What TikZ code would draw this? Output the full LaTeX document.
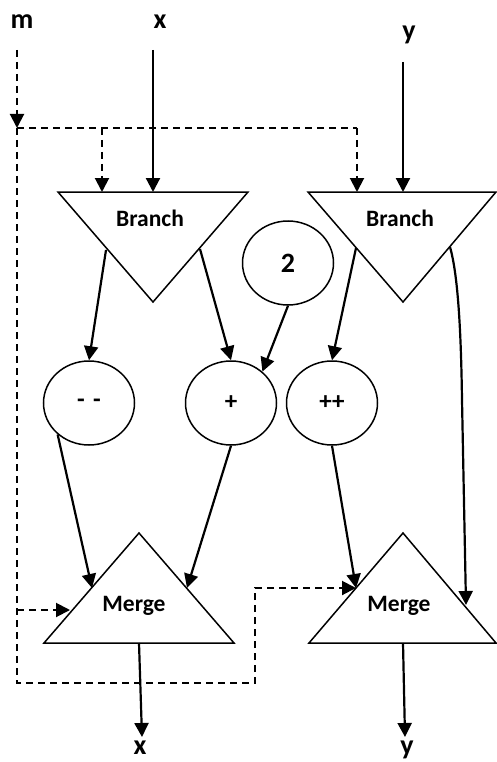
\documentclass[tikz,border=0pt]{standalone}
\usepackage{fontspec}
\setmainfont{Carlito}
\usetikzlibrary{arrows.meta,shapes.geometric}
\begin{document}
\begin{tikzpicture}[x=1pt,y=-1pt,
  conn/.style={line width=2.2pt,-{Triangle[length=14pt,width=14pt]}},
  ctrl/.style={line width=2pt,dash pattern=on 7pt off 5pt},
  ctrlarrow/.style={ctrl,-{Triangle[length=14pt,width=14pt]}},
  shapeline/.style={line width=1.5pt,line join=miter},
  op/.style={ellipse,draw,line width=1.5pt,minimum width=91pt,minimum height=84pt,inner sep=0pt,
    font=\bfseries\fontsize{25}{29}\selectfont},
  blabel/.style={font=\bfseries\fontsize{23.5}{27}\selectfont,anchor=base},
  iolabel/.style={font=\bfseries\fontsize{28}{32}\selectfont,anchor=base}]
\useasboundingbox (0,0) rectangle (497,762);

% input labels
\node[iolabel] (m) at (22,29) {m};
\node[iolabel] (xin) at (160,29) {x};
\node[iolabel] (yin) at (409,40) {y};
\coordinate (mtop) at (17,50);
\coordinate (xtop) at (153,50);
\coordinate (ytop) at (403,62);

% Branch triangles
\coordinate (BL1) at (58,192); \coordinate (BL2) at (248,192); \coordinate (BL3) at (153,302);
\coordinate (BR1) at (308,192); \coordinate (BR2) at (496,192); \coordinate (BR3) at (403,302);
\draw[shapeline] (BL1) -- (BL2) -- (BL3) -- cycle;
\draw[shapeline] (BR1) -- (BR2) -- (BR3) -- cycle;
\node[blabel] (branchL) at (150,226) {Branch};
\node[blabel] (branchR) at (400,226) {Branch};

% Merge triangles
\coordinate (ML1) at (44,643); \coordinate (ML2) at (234,643); \coordinate (ML3) at (139,533);
\coordinate (MR1) at (309,643); \coordinate (MR2) at (496,643); \coordinate (MR3) at (403,533);
\draw[shapeline] (ML1) -- (ML2) -- (ML3) -- cycle;
\draw[shapeline] (MR1) -- (MR2) -- (MR3) -- cycle;
\node[blabel] (mergeL) at (134,611) {Merge};
\node[blabel] (mergeR) at (399,611) {Merge};

% operator circles
\node[op,font=\bfseries\fontsize{28}{32}\selectfont] (two) at (288,263) {2};
\node[op] (minus) at (89,403) {-\,\,-};
\node[op] (plus) at (231,403) {+};
\node[op] (pp) at (332,403) {++};

% points on triangle edges
\coordinate (blTop1) at (102,192);
\coordinate (blTop2) at (153,192);
\coordinate (brTop1) at (357,192);
\coordinate (brTop2) at (403,192);
\coordinate (blOut1) at (106,250);
\coordinate (blOut2) at (200,249);
\coordinate (brOut1) at (356,248);
\coordinate (brOut2) at (450,247);
\coordinate (mlIn1) at (92,588);
\coordinate (mlIn2) at (187,588);
\coordinate (mlInC) at (70,610);
\coordinate (mrIn1) at (356,588);
\coordinate (mrIn2) at (466,605);
\coordinate (mlOut) at (139,643);
\coordinate (mrOut) at (403,643);
\coordinate (xout) at (142,737);
\coordinate (yout) at (405,737);
\node[iolabel] (xo) at (140,754) {x};
\node[iolabel] (yo) at (407,754) {y};

% data connectors
\draw[conn] (xtop) -- (blTop2);
\draw[conn] (ytop) -- (brTop2);
\draw[conn] (blOut1) -- (minus.north);
\draw[conn] (blOut2) -- (plus.north);
\draw[conn] (two.south) -- (plus.45);
\draw[conn] (brOut1) -- (pp.north);
\draw[conn] (brOut2) .. controls (458,275) and (461,330) .. (462,400) -- (mrIn2);
\draw[conn] (minus.225) -- (mlIn1);
\draw[conn] (plus.south) -- (mlIn2);
\draw[conn] (pp.south) -- (mrIn1);
\draw[conn] (mlOut) -- (xout);
\draw[conn] (mrOut) -- (yout);

% control (dashed) connectors
\coordinate (mj) at (17,128);
\coordinate (mlj) at (102,128);
\coordinate (mrj) at (357,128);
\coordinate (mlow) at (17,610);
\coordinate (c1) at (17,683);
\coordinate (c2) at (255,683);
\coordinate (c3) at (255,588);
\draw[ctrlarrow] (mtop) -- (mj);
\draw[ctrl] (mj) -- (mrj);
\draw[ctrlarrow] (mlj) -- (blTop1);
\draw[ctrlarrow] (mrj) -- (brTop1);
\draw[ctrlarrow] (mj) -- (c1) -- (c2) -- (c3) -- (mrIn1);
\draw[ctrlarrow] (mlow) -- (mlInC);
\end{tikzpicture}
\end{document}
